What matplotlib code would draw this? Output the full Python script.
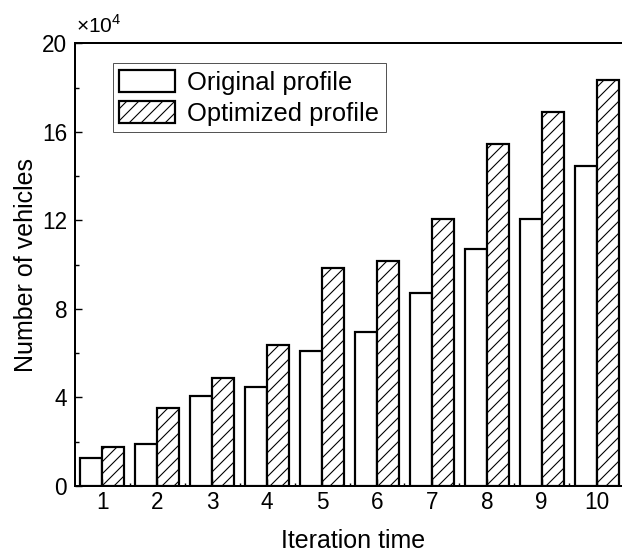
import numpy as np
import matplotlib
matplotlib.use("Agg")
import matplotlib.pyplot as plt
from matplotlib.ticker import MultipleLocator, FixedLocator

# vehicle counts per iteration for both profiles
iterations = [1, 2, 3, 4, 5, 6, 7, 8, 9, 10]
original_profile = [12500, 19000, 40800, 44800, 61100, 69400, 87000, 106900, 120800, 144500]
optimized_profile = [17800, 35100, 48900, 63700, 98300, 101700, 120400, 154500, 169000, 183300]
SCALE = 1e4

plt.rcParams["font.family"] = ["Liberation Sans", "DejaVu Sans"]
plt.rcParams["mathtext.fontset"] = "custom"
plt.rcParams["mathtext.rm"] = "Liberation Sans"
plt.rcParams["hatch.linewidth"] = 1.1
plt.rcParams["hatch.color"] = "black"

DPI = 72
W, H = 622, 558
fig = plt.figure(figsize=(W / DPI, H / DPI), dpi=DPI)
ax = fig.add_axes([75 / W, 72 / H, 549 / W, 442.7 / H])

x = np.array(iterations)
orig = np.array(original_profile) / SCALE
opt = np.array(optimized_profile) / SCALE
w = 0.4

ax.bar(x - w / 2, orig, w, facecolor="white", edgecolor="black",
       linewidth=2.2, label="Original profile")
ax.bar(x + w / 2, opt, w, facecolor="white", edgecolor="black",
       linewidth=2.2, hatch="//", label="Optimized profile")

ax.set_xlim(0.5, 10.5)
ax.set_ylim(0, 20)
ax.set_xticks(x)
ax.xaxis.set_minor_locator(FixedLocator(x[:-1] + 0.5))
ax.yaxis.set_major_locator(MultipleLocator(4))
ax.yaxis.set_minor_locator(MultipleLocator(2))

ax.tick_params(which="both", direction="in", top=False, right=False,
               width=1.4, labelsize=22.5)
ax.tick_params(which="major", length=7)
ax.tick_params(which="minor", length=4)
ax.tick_params(axis="x", which="minor", length=3)
ax.tick_params(axis="y", pad=8)
ax.tick_params(axis="x", pad=5)

for s in ax.spines.values():
    s.set_linewidth(2.0)

ax.set_ylabel("Number of vehicles", fontsize=25)
ax.set_xlabel("Iteration time", fontsize=25)
ax.yaxis.set_label_coords(-0.068, 0.5)
ax.xaxis.set_label_coords(0.506, -0.097)

fig.text(76 / W, 1 - 33 / H, "×10$^{\\mathregular{4}}$", fontsize=21,
         ha="left", va="baseline")

leg = ax.legend(loc="upper left", bbox_to_anchor=(0.0687, 0.9548),
                borderaxespad=0, fontsize=25.5, handlelength=2.2,
                handleheight=0.98, handletextpad=0.45, borderpad=0.26,
                labelspacing=0.22, fancybox=False, framealpha=1)
leg.get_frame().set_edgecolor("#555555")
leg.get_frame().set_linewidth(1.0)

fig.savefig("out.png", dpi=DPI)
plt.close(fig)
